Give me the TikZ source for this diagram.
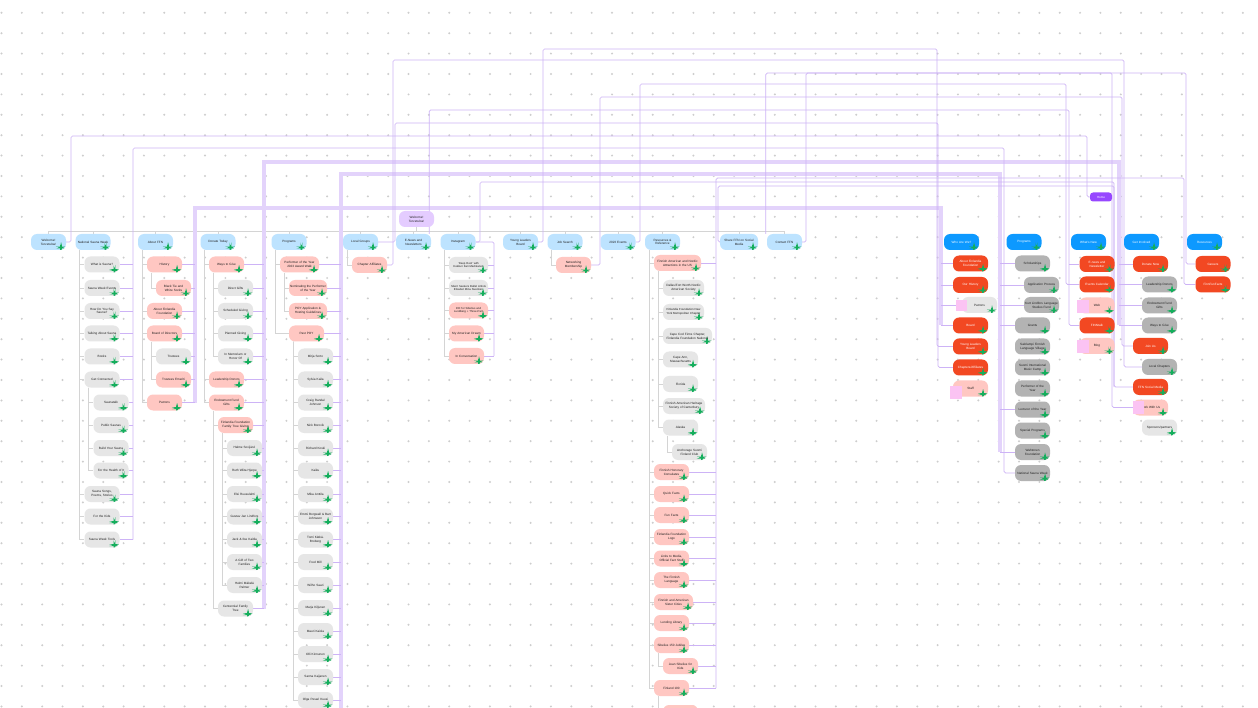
\documentclass[tikz,border=0pt]{standalone}
\usepackage{fontspec}
\setmainfont{Liberation Sans}
\definecolor{hdrblue}{HTML}{BDE3FF}
\definecolor{brightblue}{HTML}{0D99FF}
\definecolor{welcc}{HTML}{E4CCFF}
\definecolor{homec}{HTML}{9747FF}
\definecolor{salmon}{HTML}{FFC7C2}
\definecolor{orangered}{HTML}{F24822}
\definecolor{lgray}{HTML}{E6E6E6}
\definecolor{dgray}{HTML}{B3B3B3}
\definecolor{txt}{HTML}{1E1E1E}
\definecolor{treeline}{HTML}{D4D4D4}
\definecolor{lav}{HTML}{CDB3F6}
\definecolor{lavlt}{HTML}{E3D3FB}
\definecolor{dotc}{HTML}{CDCDCD}
\definecolor{gmark}{HTML}{14AE5C}
\definecolor{stickyc}{HTML}{FBC3F3}

\pgfdeclarelayer{paper}
\pgfdeclarelayer{lines}
\pgfsetlayers{paper,lines,main}

\newcommand\kids[2]{\foreach \nd in {#2} {\draw[trk] ([xshift=4pt]#1.south west) |- (\nd.west);}}
\newcommand\hook[2]{\foreach \nd in {#2} {\draw[lnk] (\nd.east) -- (\nd.east -| #1);}}
\newcommand\inlet[2]{\foreach \nd in {#2} {\draw[lnk] (\nd.west -| #1) -- (\nd.west);}}

\begin{document}
\begin{tikzpicture}[x=1pt,y=-1pt,
	box/.style={rounded corners=6pt, minimum height=16pt, minimum width=35pt,
		text width=34pt, align=center, inner xsep=0.5pt, inner ysep=1pt, text=txt,
		font=\fontsize{3.1}{3.8}\selectfont,
		path picture={\fill[gmark] ([xshift=-6pt,yshift=1.5pt]path picture bounding box.south east)
			rectangle ([xshift=-4.2pt,yshift=3.3pt]path picture bounding box.south east);}},
	hdr/.style={box, fill=hdrblue},
	hdrB/.style={box, fill=brightblue, text=white},
	pg/.style={box, fill=lgray},
	sal/.style={box, fill=salmon},
	org/.style={box, fill=orangered, text=white},
	dg/.style={box, fill=dgray},
	welc/.style={rounded corners=6pt, minimum height=16pt, minimum width=35pt, text width=34pt,
		align=center, inner sep=0.5pt, fill=welcc, text=txt, font=\fontsize{3.1}{3.8}\selectfont},
	homebox/.style={rounded corners=3pt, minimum height=9pt, minimum width=22pt, inner sep=0.5pt,
		fill=homec, text=white, font=\fontsize{3}{3.6}\selectfont},
	wide/.style={minimum width=#1, text width=#1-1pt},
	trk/.style={draw=treeline, line width=0.6pt},
	lnk/.style={draw=lav, line width=0.7pt, rounded corners=1.5pt},
	thk/.style={draw=lavlt, line width=3.5pt}]

\begin{pgfonlayer}{paper}
\fill[white] (0,0) rectangle (1258,708);
\foreach \i in {0,...,61} \foreach \j in {0,...,34}
	\fill[dotc] ({1.5+20.35*\i},{12.8+20.4*\j}) circle (1.1);
\end{pgfonlayer}
\useasboundingbox (0,0) rectangle (1258,708);

% bus columns
\coordinate (kA) at (133,0);
\coordinate (kB) at (195,0);
\coordinate (kC) at (264,0);
\coordinate (kD) at (341,0);
\coordinate (kE) at (494,0);
\coordinate (kF) at (716,0);
\coordinate (kW) at (941,0);
\coordinate (kP) at (1000,0);
\coordinate (kG) at (1119,0);

% old site
\node[welc] (w0) at (416.5,219) {Welcome!\\Tervetuloa!};
\node[hdr] (h1) at (48.5,242) {Welcome!\\Tervetuloa!};
\node[hdr] (h2) at (93,242) {National Sauna Week};
\node[hdr] (h3) at (155.5,242) {About FFN};
\node[hdr] (h4) at (218,242) {Donate Today};
\node[hdr] (h5) at (289,242) {Programs};
\node[hdr] (h6) at (360.5,242) {Local Groups};
\node[hdr] (h7) at (413.5,242) {E-News and\\Newsletters};
\node[hdr] (h8) at (458,242) {Instagram};
\node[hdr] (h9) at (520.5,242) {Young Leaders\\Board};
\node[hdr] (h10) at (565,242) {Job Search};
\node[hdr] (h11) at (618,242) {2023 Events};
\node[hdr] (h12) at (662.5,242) {Resources \&\\Reference};
\node[hdr,wide=38pt] (h13) at (739,242) {Share FFN on Social\\Media};
\node[hdr] (h14) at (784.5,242) {Contact FFN};

\node[pg] (a1) at (102,264.5) {What is Sauna?};
\node[pg] (a2) at (102,288) {Sauna Week Events};
\node[pg] (a3) at (102,311) {How Do You Say\\Sauna?};
\node[pg] (a4) at (102,333.5) {Talking About Sauna};
\node[pg] (a5) at (102,356.5) {Books};
\node[pg] (a6) at (102,379.5) {Get Connected};
\node[pg] (a7) at (111,402.5) {Saunatalk};
\node[pg] (a8) at (111,425) {Public Saunas};
\node[pg] (a9) at (111,448) {Build Your Sauna};
\node[pg] (a10) at (111,470.5) {For the Health of It};
\node[pg] (a11) at (102,494) {Sauna Songs,\\Poems, Stories};
\node[pg] (a12) at (102,516.5) {For the Kids};
\node[pg] (a13) at (102,539.5) {Sauna Week Tools};

\node[sal] (b1) at (164.5,264.5) {History};
\node[sal] (b2) at (173.5,288) {Black Tie and\\White Socks};
\node[sal] (b3) at (164.5,311) {About Finlandia\\Foundation};
\node[sal] (b4) at (164.5,333.5) {Board of Directors};
\node[pg] (b5) at (173.5,356.5) {Trustees};
\node[sal] (b6) at (173.5,379.5) {Trustees Emeriti};
\node[sal] (b7) at (164.5,402.5) {Patrons};

\node[sal] (c1) at (226.5,264.5) {Ways to Give};
\node[pg] (c2) at (235.5,288) {Direct Gifts};
\node[pg] (c3) at (235.5,311) {Scheduled Giving};
\node[pg] (c4) at (235.5,333.5) {Planned Giving};
\node[pg] (c5) at (235.5,356.5) {In Memoriam or\\Honor Of};
\node[sal] (c6) at (226.5,379.5) {Leadership Donors};
\node[sal] (c7) at (226.5,402.5) {Endowment Fund\\Gifts};
\node[sal] (c8) at (235.5,425) {Finlandia Foundation\\Family Tree Giving};
\node[pg] (c9) at (244.5,448) {Halme Sovijärvi};
\node[pg] (c10) at (244.5,470.5) {Ruth Wiita Hjerpe};
\node[pg] (c11) at (244.5,494) {Elsi Ruusulahti};
\node[pg] (c12) at (244.5,516.5) {Gustav Jan Lindfors};
\node[pg] (c13) at (244.5,539.5) {Jack \& Ilse Kaitila};
\node[pg] (c14) at (244.5,562) {A Gift of Two\\Families};
\node[pg] (c15) at (244.5,585) {Helmi Mäkelä\\Palmer};
\node[pg] (c16) at (235.5,608.5) {Centennial Family\\Tree};

\node[sal,wide=39pt] (d1) at (299.5,264.5) {Performer of the Year\\2023 Award Walk};
\node[sal,wide=38pt] (d2) at (308,288) {Nominating the Performer\\of the Year};
\node[sal,wide=38pt] (d3) at (308,311) {POY Application \&\\Hosting Guidelines};
\node[sal] (d4) at (306.5,333.5) {Past POY};
\node[pg] (d5) at (315.5,356.5) {Mirja Sorto};
\node[pg] (d6) at (315.5,379.5) {Sylvia Kaila};
\node[pg] (d7) at (315.5,402.5) {Craig Randal\\Johnson};
\node[pg] (d8) at (315.5,425) {Nick Borovik};
\node[pg] (d9) at (315.5,448) {Richard Koski};
\node[pg] (d10) at (315.5,470.5) {Kaiku};
\node[pg] (d11) at (315.5,494) {Mika Anttila};
\node[pg] (d12) at (315.5,516.5) {Emmi Borgwall \& Bart\\Johnsson};
\node[pg] (d13) at (315.5,539.5) {Tomi Kätkä-\\Broberg};
\node[pg] (d14) at (315.5,562) {Fred Mill};
\node[pg] (d15) at (315.5,585) {Wilho Saari};
\node[pg] (d16) at (315.5,608) {Marja Kiljunen};
\node[pg] (d17) at (315.5,631) {Mauri Kaisla};
\node[pg] (d18) at (315.5,654) {Olli Kinnunen};
\node[pg] (d19) at (315.5,677) {Sanna Kaijanen};
\node[pg] (d20) at (315.5,700) {Olga Pesari Kuusi};

\node[sal] (e1) at (369.5,265) {Chapter Affiliates};

\node[pg,wide=39pt,font=\fontsize{2.8}{3.5}\selectfont] (f1) at (468.5,265) {`Deep Rest' with\\Kukkuri Kari Markkanen};
\node[pg,wide=39pt,font=\fontsize{2.8}{3.5}\selectfont] (f2) at (468.5,288) {Silent Seekers Ballet Artists\\Elisabet Mina Nuutinen};
\node[sal,wide=39pt,font=\fontsize{2.8}{3.5}\selectfont] (f3) at (468.5,310.5) {ICE for Sibelius and\\Lundberg + Three-Part};
\node[sal] (f4) at (466.5,333.5) {My American Dream};
\node[sal] (f5) at (466.5,356) {In Conversation};

\node[sal] (g1) at (573.5,265) {Networking\\Membership};

\node[sal,wide=47pt] (r1) at (677.5,263) {Finnish American and Nordic\\Attractions in the US};
\node[pg,wide=41pt] (r2) at (683.5,288) {Dallas/Fort Worth Nordic\\American Society};
\node[pg,wide=41pt,font=\fontsize{2.9}{3.6}\selectfont] (r3) at (683.5,312) {Finlandia Foundation New\\York Metropolitan Chapter};
\node[pg,wide=49pt] (r4) at (687.5,336) {Cape Cod Finns Chapter,\\Finlandia Foundation National};
\node[pg] (r5) at (680.5,359.5) {Cape Ann,\\Massachusetts};
\node[pg] (r6) at (680.5,384) {Florida};
\node[pg,wide=42pt] (r7) at (684,406) {Finnish American Heritage\\Society of Canterbury};
\node[pg] (r8) at (680.5,427.5) {Alaska};
\node[pg] (r9) at (689.5,452) {Anchorage Suomi\\Finland Club};
\node[sal] (r10) at (671.5,472) {Finnish Honorary\\Consulates};
\node[sal] (r11) at (671.5,494) {Quick Facts};
\node[sal] (r12) at (671.5,515) {Fun Facts};
\node[sal] (r13) at (671.5,537) {Finlandia Foundation\\Logo};
\node[sal] (r14) at (671.5,558.5) {Links to Media,\\Official Fact Stuff};
\node[sal] (r15) at (671.5,580) {The Finnish\\Language};
\node[sal,wide=39pt] (r16) at (673.5,602) {Finnish and American\\Sister Cities};
\node[sal] (r17) at (671.5,623) {Lending Library};
\node[sal] (r18) at (671.5,645) {Sibelius 150 Jubilee};
\node[sal] (r19) at (680.5,666) {Jean Sibelius for\\Kids};
\node[sal] (r20) at (671.5,688) {Finland 100};
\node[sal] (r21) at (680.5,713) {};

% new site
\node[homebox] (home) at (1101,197) {Home};
\node[hdrB] (i0) at (961.5,242) {Who Are We?};
\node[hdrB] (j0) at (1024,242) {Programs};
\node[hdrB] (k0) at (1088.5,242) {What's New};
\node[hdrB] (l0) at (1141.5,242) {Get Involved};
\node[hdrB] (m0) at (1204.5,242) {Resources};

\node[org] (i1) at (970.5,263.5) {About Finlandia\\Foundation};
\node[org] (i2) at (970.5,285) {Our History};
\node[pg] (i3) at (979.5,305) {Patrons};
\node[org] (i4) at (970.5,325.5) {Board};
\node[org] (i5) at (970.5,346.5) {Young Leaders\\Board};
\node[org] (i6) at (970.5,367.5) {Chapters/Affiliates};
\node[sal] (i7) at (970.5,388.5) {Staff};

\node[dg] (j1) at (1032.5,263.5) {Scholarships};
\node[dg] (j2) at (1041.5,285) {Application Process};
\node[dg] (j3) at (1041.5,305) {Kurt Lindfors Language\\Studies Fund};
\node[dg] (j4) at (1032.5,325.5) {Grants};
\node[dg] (j5) at (1032.5,346.5) {Salolampi Finnish\\Language Village};
\node[dg] (j6) at (1032.5,367.5) {Suomi International\\Music Camp};
\node[dg] (j7) at (1032.5,388.5) {Performer of the\\Year};
\node[dg] (j8) at (1032.5,409.5) {Lecturer of the Year};
\node[dg] (j9) at (1032.5,430.5) {Special Programs};
\node[dg] (j10) at (1032.5,452) {Wahtonen\\Foundation};
\node[dg] (j11) at (1032.5,473) {National Sauna Week};

\node[org] (k1) at (1097,264) {E-news and\\Newsletter};
\node[org] (k2) at (1097,284.5) {Events Calendar};
\node[sal] (k3) at (1097,305.5) {Web};
\node[org] (k4) at (1097,325.5) {FINNtalk};
\node[sal] (k5) at (1097,346) {Blog};

\node[org] (l1) at (1150.5,264) {Donate Now};
\node[dg] (l2) at (1159.5,284.5) {Leadership Donors};
\node[dg] (l3) at (1159.5,305.5) {Endowment Fund\\Gifts};
\node[dg] (l4) at (1159.5,325.5) {Ways to Give};
\node[org] (l5) at (1150.5,346) {Join Us};
\node[dg] (l6) at (1159.5,367) {Local Chapters};
\node[org] (l7) at (1150.5,387) {FFN Social Media};
\node[sal] (l8) at (1150.5,407.5) {Work With Us};
\node[pg] (l9) at (1159.5,427.5) {Sponsors/partners};

\node[org] (m1) at (1213,264) {Careers};
\node[org] (m2) at (1213,284.5) {FinnFunFacts};

% sticky notes
\fill[stickyc] (956,300) rectangle (967,311);
\fill[stickyc] (950,386) rectangle (962,399);
\fill[stickyc] (1077,300) rectangle (1089,313);
\fill[stickyc] (1077,340) rectangle (1089,353);
\fill[stickyc] (1133,401) rectangle (1144,414);

% trees and links, under the nodes
\begin{pgfonlayer}{lines}
\foreach \h in {h1,h2,h3,h4,h5,h6,h7,h8,h9,h10,h11,h12,h13,h14}
	\draw[trk] (w0.south) -- ++(0,4) -| (\h.north);
\kids{h2}{a1,a2,a3,a4,a5,a6,a11,a12,a13}
\kids{a6}{a7,a8,a9,a10}
\kids{h3}{b1,b3,b4,b7}
\kids{b1}{b2}
\kids{b4}{b5,b6}
\kids{h4}{c1,c6,c7}
\kids{c1}{c2,c3,c4,c5}
\kids{c7}{c8,c16}
\kids{c8}{c9,c10,c11,c12,c13,c14,c15}
\kids{h5}{d1,d4}
\kids{d1}{d2,d3}
\kids{d4}{d5,d6,d7,d8,d9,d10,d11,d12,d13,d14,d15,d16,d17,d18,d19,d20}
\kids{h6}{e1}
\kids{h8}{f1,f2,f3,f4,f5}
\kids{h10}{g1}
\kids{h12}{r1,r10,r11,r12,r13,r14,r15,r16,r17,r18,r20}
\kids{r1}{r2,r3,r4,r5,r6,r7,r8}
\kids{r8}{r9}
\kids{r18}{r19}
\kids{r20}{r21}

% old page -> new page
\draw[thk] (kB |- b7.east) -- (195,208) -| (941,325.5);
\draw[thk] (kC |- c16.east) -- (264,162) -| (1119,325.5);
\draw[thk] (341,712) -- (341,174) -| (1000,452);

\draw[lnk] (h1.east) -| (71,136) -| (1087,197) -- (home.west);
\draw[lnk] (kA |- a13.east) -- (133,148) -| (1004,473) -- (j11.west);
\draw[lnk] (e1.east) -| (393,60) -| (1124,367) -- (l6.west);
\draw[lnk] (h6.east) -| (395,123) -| (938,367.5) -- (i6.west);
\draw[lnk] ([xshift=-2pt]h7.north east) |- (1069,110) -- (1069,325.5) -- (k4.west);
\draw[lnk] (1069,264) -- (k1.west);
\draw[lnk] (kE |- f5.east) |- (h8.east);
\draw[lnk] (h8.east) -| (480,182) -| (1114,387) -- (l7.west);
\draw[lnk] (h9.east) -| (543,49) -| (937,346.5) -- (i5.west);
\draw[lnk] (g1.east) -| (600,97) -| (1122,346) -- (l5.west);
\draw[lnk] (h11.east) -| (640,84) -| (1066,284.5) -- (k2.west);
\draw[lnk] (kF |- r20.east) -- (716,178) -| (1184,284.5) -- (m2.west);
\draw[lnk] (h13.west) -| (718,186) -| (1114,387);
\draw[lnk] (h14.east) -| (806,73) -| (1186,264) -- (m1.west);
\draw[lnk] ([xshift=-1pt]h14.north west) |- (1112,73) |- (l8.west);

\hook{kA}{a1,a2,a3,a4,a5,a6,a7,a8,a9,a10,a11,a12,a13}
\hook{kB}{b1,b2,b3,b4,b5,b6,b7}
\hook{kC}{c1,c2,c3,c4,c5,c6,c7,c8,c9,c10,c11,c12,c13,c14,c15,c16}
\hook{kD}{d1,d2,d3,d4,d5,d6,d7,d8,d9,d10,d11,d12,d13,d14,d15,d16,d17,d18,d19,d20}
\hook{kE}{f1,f2,f3,f4,f5}
\hook{kF}{r1,r10,r11,r12,r13,r14,r15,r16,r17,r18,r19,r20}
\inlet{kW}{i1,i2,i3,i4}
\inlet{kP}{j1,j2,j3,j4,j8,j10}
\inlet{kG}{l1,l2,l3,l4}
\end{pgfonlayer}
\end{tikzpicture}
\end{document}
